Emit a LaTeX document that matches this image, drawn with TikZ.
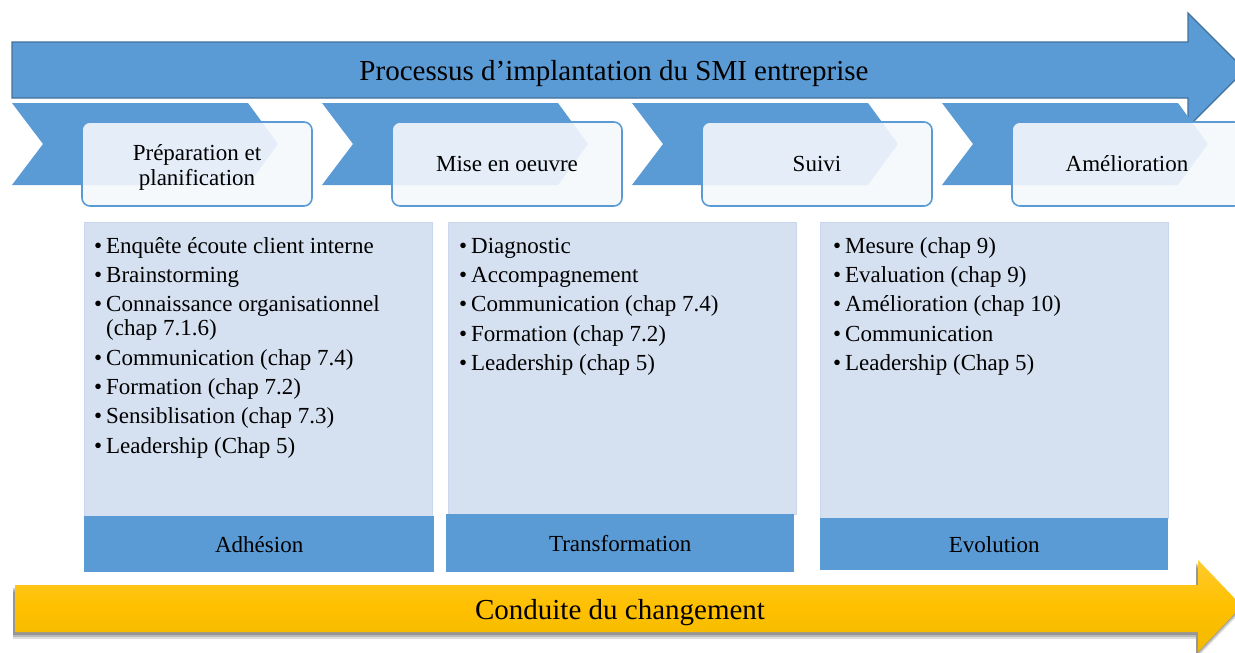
\documentclass[tikz,border=0pt]{standalone}
\usepackage{fontspec}
\setmainfont{Liberation Serif}
\definecolor{mblue}{HTML}{5B9BD5}
\definecolor{dblue}{HTML}{41719C}
\definecolor{lblue}{HTML}{D5E0F0}
\definecolor{lbord}{HTML}{C9D7EC}
\definecolor{pale}{RGB}{244,248,252}
\definecolor{goldtop}{HTML}{FFCB2E}
\definecolor{goldmid}{HTML}{FFC000}
\definecolor{goldbot}{HTML}{F2BA00}
\newcommand{\itm}[1]{\makebox[12pt][l]{•}#1}
\begin{document}
\begin{tikzpicture}[x=1pt,y=-1pt,
  bigtext/.style={font=\fontsize{29}{34}\selectfont},
  smalltext/.style={font=\fontsize{23}{25}\selectfont},
  chevron/.style={fill=mblue},
  phasebox/.style={draw=mblue, line width=1.6pt, fill=pale, fill opacity=0.9,
    text opacity=1, rounded corners=8pt, minimum width=230pt,
    minimum height=84pt, align=center, smalltext, inner sep=0pt},
  listbox/.style={draw=lbord, line width=0.8pt, fill=lblue, anchor=north west,
    inner sep=0pt},
  footbar/.style={fill=mblue, anchor=north west, inner sep=0pt, smalltext},
  itemlist/.style={anchor=north west, align=left, inner sep=0pt,
    font=\fontsize{23}{24}\selectfont},
]
\useasboundingbox (0,0) rectangle (1235,653);
\begin{scope}
\clip (0,0) rectangle (1235,653);

% main process arrow
\draw[fill=mblue, draw=dblue, line width=1.3pt]
  (12,42) -- (1188,42) -- (1188,13) -- (1245,70) -- (1188,127)
  -- (1188,98) -- (12,98) -- cycle;
\node[bigtext] (title) at (614,74) {Processus d’implantation du SMI entreprise};

% chevrons of the four phases
\foreach \i in {0,1,2,3}{
  \pgfmathsetmacro{\xo}{12+310*\i}
  \fill[chevron] (\xo,103) -- ++(236,0) -- ++(30,41) -- ++(-30,41)
    -- ++(-236,0) -- ++(31,-41) -- cycle;
}

% phase boxes
\node[phasebox] (p1) at (197,164)
  {\raisebox{-4pt}[\height][\depth]{\begin{tabular}{@{}c@{}}Préparation et\\planification\end{tabular}}};
\node[phasebox] (p2) at (507,164) {Mise en oeuvre};
\node[phasebox] (p3) at (817,164) {Suivi};
\node[phasebox] (p4) at (1127,164) {Amélioration};

% activity panels
\node[listbox, minimum width=348pt, minimum height=294pt] (l1) at (84,222) {};
\node[listbox, minimum width=348pt, minimum height=292pt] (l2) at (448,222) {};
\node[listbox, minimum width=348pt, minimum height=296pt] (l3) at (820,222) {};

\node[footbar, minimum width=350pt, minimum height=56pt] (f1) at (84,516) {Adhésion};
\node[footbar, minimum width=348pt, minimum height=58pt] (f2) at (446,514) {Transformation};
\node[footbar, minimum width=348pt, minimum height=52pt] (f3) at (820,518) {Evolution};

\node[itemlist] (i1) at (94,236) {\rule{0pt}{17pt}\itm{Enquête écoute client interne}\\[5.3pt]
  \itm{Brainstorming}\\[5.3pt]
  \itm{Connaissance organisationnel}\\
  \hspace*{12pt}(chap 7.1.6)\\[5.3pt]
  \itm{Communication (chap 7.4)}\\[5.3pt]
  \itm{Formation (chap 7.2)}\\[5.3pt]
  \itm{Sensiblisation (chap 7.3)}\\[5.3pt]
  \itm{Leadership (Chap 5)}};
\node[itemlist] (i2) at (459,236) {\rule{0pt}{17pt}\itm{Diagnostic}\\[5.3pt]
  \itm{Accompagnement}\\[5.3pt]
  \itm{Communication (chap 7.4)}\\[5.3pt]
  \itm{Formation (chap 7.2)}\\[5.3pt]
  \itm{Leadership (chap 5)}};
\node[itemlist] (i3) at (833,236) {\rule{0pt}{17pt}\itm{Mesure (chap 9)}\\[5.3pt]
  \itm{Evaluation (chap 9)}\\[5.3pt]
  \itm{Amélioration (chap 10)}\\[5.3pt]
  \itm{Communication}\\[5.3pt]
  \itm{Leadership (Chap 5)}};

% change management arrow with a soft shadow underneath
\foreach \s/\o in {7/0.12,5/0.16,3/0.2}{
  \fill[black, opacity=\o, shift={(-2,\s)}]
    (15,585) -- (1198,585) -- (1198,560) -- (1242,606) -- (1198,652)
    -- (1198,632) -- (15,632) -- cycle;
}
\path[top color=goldtop, bottom color=goldbot, middle color=goldmid]
  (15,585) -- (1198,585) -- (1198,560) -- (1242,606) -- (1198,652)
  -- (1198,632) -- (15,632) -- cycle;
\node[bigtext] (chg) at (620,613) {Conduite du changement};
\end{scope}
\end{tikzpicture}
\end{document}
